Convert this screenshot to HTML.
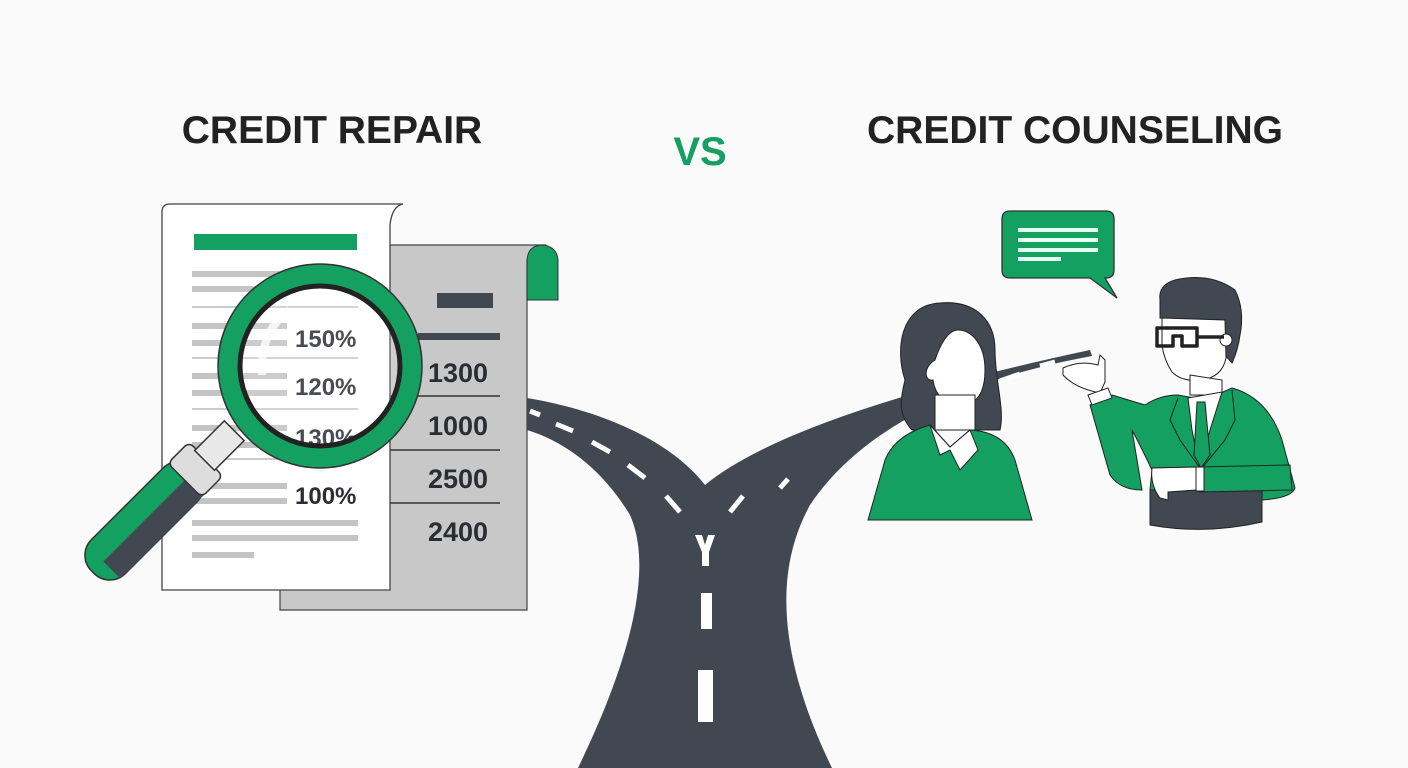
<!DOCTYPE html>
<html><head><meta charset="utf-8"><style>
html,body{margin:0;padding:0;background:#fafafa;}
svg{display:block;}
text{font-family:"Liberation Sans",sans-serif;font-weight:bold;}
</style></head><body>
<svg width="1408" height="768" viewBox="0 0 1408 768" xmlns="http://www.w3.org/2000/svg">
<rect width="1408" height="768" fill="#fafafa"/>
<text x="332" y="143" font-size="39" fill="#222" text-anchor="middle">CREDIT REPAIR</text>
<text x="700" y="165" font-size="40" fill="#14a060" text-anchor="middle">VS</text>
<text x="1075" y="143" font-size="39" fill="#222" text-anchor="middle">CREDIT COUNSELING</text>

<!-- road -->
<path d="M527,398 C600,410 670,440 705,485 C760,440 880,395 1090,350 L1092,356 C960,380 860,430 810,505 C780,560 770,640 832,768 L578,768 C640,640 650,560 630,515 C600,465 560,440 527,430 Z" fill="#424852"/>
<g stroke="#fff" stroke-width="5" fill="none">
<line x1="530" y1="411" x2="540" y2="415"/><line x1="556" y1="424" x2="573" y2="431"/><line x1="592" y1="442" x2="610" y2="452"/><line x1="628" y1="465" x2="645" y2="478"/><line x1="666" y1="496" x2="680" y2="512"/>
<line x1="1040" y1="366" x2="1055" y2="362"/><line x1="1000" y1="381" x2="1020" y2="374"/><line x1="962" y1="397" x2="982" y2="388"/><line x1="920" y1="418" x2="938" y2="408"/><line x1="880" y1="441" x2="898" y2="428"/><line x1="788" y1="479" x2="780" y2="488"/><line x1="743" y1="496" x2="730" y2="512"/>
</g>
<path d="M695,535 L702,535 L705,545 L708,535 L715,535 L709,552 L709,566 L702,566 L702,552 Z" fill="#fff"/>
<rect x="701" y="593" width="11" height="36" fill="#fff"/>
<rect x="698" y="670" width="15" height="52" fill="#fff"/>

<!-- back doc -->
<path d="M280,245 L545,245 L527,260 L527,610 L280,610 Z" fill="#c8c8c8" stroke="#444" stroke-width="1.2"/>
<path d="M527,300 L527,262 Q527,245 543,245 Q558,247 558,262 L558,300 Z" fill="#14a060" stroke="#333" stroke-width="1"/>
<rect x="437" y="293" width="56" height="15" fill="#424852"/>
<rect x="418" y="333" width="82" height="7" fill="#424852"/>
<g font-size="27" fill="#2a2d33"><text x="428" y="382">1300</text><text x="428" y="435">1000</text><text x="428" y="488">2500</text><text x="428" y="541">2400</text></g>
<g stroke="#333" stroke-width="1.5"><line x1="390" y1="396" x2="500" y2="396"/><line x1="390" y1="450" x2="500" y2="450"/><line x1="390" y1="503" x2="500" y2="503"/></g>

<!-- front doc -->
<path d="M170,204 L403,204 Q392,206 390,225 L390,590 L162,590 L162,212 Q162,204 170,204 Z" fill="#fff" stroke="#444" stroke-width="1.3"/>
<rect x="194" y="234" width="163" height="16" fill="#14a060"/>
<g fill="#c4c4c4">
<rect x="192" y="271" width="95" height="6"/><rect x="192" y="286" width="95" height="6"/>
<rect x="192" y="323" width="95" height="6"/><rect x="192" y="340" width="95" height="6"/>
<rect x="192" y="373" width="95" height="6"/><rect x="192" y="390" width="95" height="6"/>
<rect x="192" y="425" width="95" height="6"/><rect x="192" y="442" width="95" height="6"/>
<rect x="192" y="483" width="95" height="6"/><rect x="192" y="498" width="95" height="6"/>
<rect x="192" y="520" width="166" height="6"/><rect x="192" y="535" width="166" height="6"/><rect x="192" y="552" width="62" height="6"/>
</g>
<g stroke="#bbb" stroke-width="1.5"><line x1="192" y1="307" x2="358" y2="307"/><line x1="192" y1="358" x2="358" y2="358"/><line x1="192" y1="409" x2="358" y2="409"/><line x1="192" y1="459" x2="358" y2="459"/></g>
<g font-size="24" fill="#2a2d33"><text x="295" y="347">150%</text><text x="295" y="395">120%</text><text x="295" y="446">130%</text><text x="295" y="504">100%</text></g>

<!-- magnifier -->
<g transform="rotate(45 160 505)">
<rect x="136" y="455" width="48" height="145" rx="22" fill="#14a060" stroke="#333" stroke-width="1.5"/>
<rect x="160" y="455" width="24" height="130" fill="#424852"/>
<rect x="136" y="440" width="48" height="30" rx="6" fill="#ddd" stroke="#333" stroke-width="1.5"/>
<rect x="146" y="400" width="28" height="42" fill="#e8e8e8" stroke="#333" stroke-width="1.5"/>
</g>
<circle cx="320" cy="366" r="92" fill="none" stroke="#14a060" stroke-width="20"/>
<circle cx="320" cy="366" r="102" fill="none" stroke="#333" stroke-width="1.5"/>
<circle cx="320" cy="366" r="80" fill="rgba(255,255,255,0.15)" stroke="#222" stroke-width="5"/>
<path d="M262,375 Q260,330 290,310" stroke="#fff" stroke-width="8" fill="none" opacity="0.8"/>

<!-- speech bubble -->
<path d="M1010,211 L1106,211 Q1114,211 1114,219 L1114,270 Q1114,278 1106,278 L1105,278 L1117,298 L1090,278 L1010,278 Q1002,278 1002,270 L1002,219 Q1002,211 1010,211 Z" fill="#14a060" stroke="#333" stroke-width="1.3"/>
<g fill="#e8fff4"><rect x="1018" y="228" width="80" height="4"/><rect x="1018" y="238" width="80" height="4"/><rect x="1018" y="248" width="80" height="4"/><rect x="1018" y="257" width="43" height="4"/></g>

<!-- woman -->
<path d="M940,303 C900,305 895,350 905,380 C900,400 898,415 912,430 L1000,430 C1005,410 995,380 995,350 C995,320 975,300 940,303 Z" fill="#424852" stroke="#222" stroke-width="1"/>
<path d="M958,330 C972,330 985,345 985,370 C985,395 975,405 960,405 C945,405 935,395 933,380 C925,382 922,368 935,360 C940,345 948,330 958,330 Z" fill="#fff" stroke="#222" stroke-width="1"/>
<path d="M935,395 L935,430 L975,430 L975,395 Z" fill="#fff" stroke="#222" stroke-width="1"/>
<path d="M868,520 L885,460 Q895,435 930,425 L950,447 L970,430 Q1005,432 1015,460 L1032,520 Z" fill="#14a060" stroke="#222" stroke-width="1"/>
<path d="M930,425 L950,447 L970,430 L978,450 L960,470 L950,450 L940,455 Z" fill="#fff" stroke="#222" stroke-width="1"/>

<!-- man -->
<path d="M1150,490 L1262,490 L1262,522 Q1205,535 1150,525 Z" fill="#424852" stroke="#222" stroke-width="1"/>
<path d="M1160,300 Q1158,285 1175,280 Q1210,272 1235,290 Q1245,310 1240,335 Q1238,350 1232,363 L1225,355 L1225,320 L1160,318 Z" fill="#424852" stroke="#222" stroke-width="1"/>
<path d="M1162,318 L1225,320 L1226,358 Q1222,378 1200,380 Q1182,382 1172,372 Q1164,360 1162,345 Z" fill="#fff" stroke="#222" stroke-width="1"/>
<circle cx="1226" cy="340" r="6" fill="#fff" stroke="#222" stroke-width="1"/>
<path d="M1157,328 L1197,328 L1197,346 L1182,346 L1182,336 L1173,336 L1173,346 L1157,346 Z" fill="none" stroke="#222" stroke-width="3.5" stroke-linejoin="round"/>
<line x1="1197" y1="337" x2="1224" y2="337" stroke="#222" stroke-width="3.5"/>
<path d="M1190,375 L1222,380 L1222,395 L1190,395 Z" fill="#fff" stroke="#222" stroke-width="1"/>
<path d="M1178,395 L1205,400 L1232,388 Q1268,398 1282,440 L1295,488 Q1292,498 1262,500 L1262,490 L1150,490 L1152,470 Q1140,445 1132,430 L1142,490 Q1120,490 1110,475 L1090,405 L1112,395 L1145,405 Q1160,395 1178,395 Z" fill="#14a060" stroke="#222" stroke-width="1"/>
<path d="M1188,398 L1222,392 L1210,430 L1200,470 L1192,430 Z" fill="#fff" stroke="#222" stroke-width="1"/>
<path d="M1197,402 L1205,402 L1210,455 L1201,468 L1194,455 Z" fill="#14a060" stroke="#222" stroke-width="1"/>
<path d="M1178,398 L1170,420 L1180,440 L1200,468 M1232,390 L1235,420 L1225,440 L1202,468" fill="none" stroke="#222" stroke-width="1"/>
<path d="M1152,468 L1290,465 L1292,490 L1200,492 Z" fill="#14a060" stroke="#222" stroke-width="1"/>
<rect x="1196" y="467" width="8" height="24" fill="#fff" stroke="#222" stroke-width="1"/>
<path d="M1152,468 L1196,467 L1196,490 L1168,492 L1168,500 L1160,498 Q1150,485 1152,468 Z" fill="#fff" stroke="#222" stroke-width="1"/>
<path d="M1063,368 Q1080,360 1098,365 L1100,355 L1105,360 L1105,382 L1100,393 Q1075,388 1063,375 Z" fill="#fff" stroke="#222" stroke-width="1"/>
<path d="M1088,395 L1108,388 L1112,398 L1092,405 Z" fill="#fff" stroke="#222" stroke-width="1"/>
</svg>
</body></html>
